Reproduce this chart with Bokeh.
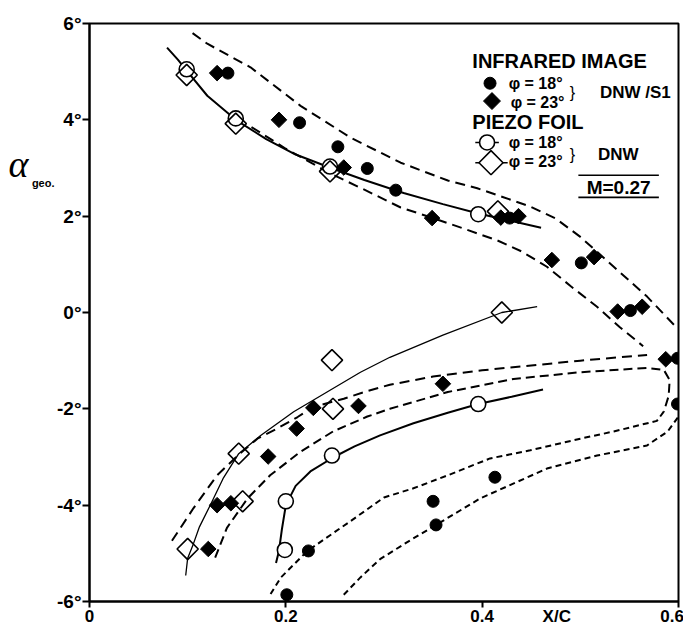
from bokeh.plotting import figure
from bokeh.models import Range1d, FixedTicker, LinearAxis
from bokeh.embed import file_html
from bokeh.resources import INLINE
from bokeh.core.properties import value

# ---------------- data ----------------
x_ticks = [0, 0.2, 0.4, 0.6]
x_tick_labels = ["0", "0.2", "0.4", "0.6"]
y_ticks = [-6, -4, -2, 0, 2, 4, 6]
y_tick_labels = ["-6°", "-4°", "-2°", "0°", "2°", "4°", "6°"]
x_title = "X/C"
y_title = "α"
y_title_sub = "geo."

# Infrared image, phi = 18 deg (filled circles)
ir18_x = [0.141, 0.214, 0.253, 0.283, 0.312, 0.428, 0.501, 0.551, 0.599, 0.599, 0.413, 0.350, 0.353, 0.223, 0.201]
ir18_y = [4.97, 3.94, 3.44, 2.99, 2.54, 1.96, 1.03, 0.04, -0.95, -1.90, -3.42, -3.92, -4.41, -4.95, -5.86]
# Infrared image, phi = 23 deg (filled diamonds)
ir23_x = [0.130, 0.193, 0.259, 0.349, 0.419, 0.437, 0.471, 0.514, 0.538, 0.563, 0.587, 0.360, 0.274, 0.228, 0.211, 0.182, 0.144, 0.130, 0.121]
ir23_y = [4.97, 4.00, 3.01, 1.96, 1.97, 2.00, 1.09, 1.15, 0.02, 0.12, -0.97, -1.48, -1.94, -1.98, -2.41, -2.99, -3.96, -4.00, -4.91]
# Piezo foil, phi = 18 deg (open circles)
pz18_x = [0.099, 0.149, 0.245, 0.396, 0.396, 0.247, 0.200, 0.199]
pz18_y = [5.05, 4.03, 3.03, 2.04, -1.90, -2.97, -3.92, -4.93]
# Piezo foil, phi = 23 deg (open diamonds)
pz23_x = [0.099, 0.149, 0.245, 0.416, 0.420, 0.247, 0.248, 0.152, 0.156, 0.100]
pz23_y = [4.93, 3.92, 2.93, 2.10, 0.00, -0.99, -2.00, -2.93, -3.92, -4.91]

# faired curves
upper_solid_x = [0.079, 0.09, 0.099, 0.12, 0.149, 0.18, 0.21, 0.246, 0.28, 0.32, 0.36, 0.397, 0.43, 0.46]
upper_solid_y = [5.5, 5.25, 5.02, 4.5, 4.0, 3.6, 3.28, 3.0, 2.75, 2.48, 2.25, 2.05, 1.9, 1.76]
upper_outer_x = [0.105, 0.12, 0.164, 0.215, 0.266, 0.317, 0.365, 0.395, 0.449, 0.475, 0.5, 0.534, 0.568, 0.597]
upper_outer_y = [5.8, 5.58, 5.09, 4.29, 3.63, 3.11, 2.74, 2.58, 2.2, 1.95, 1.57, 0.95, 0.33, -0.29]
upper_inner_x = [0.165, 0.2, 0.246, 0.28, 0.317, 0.35, 0.38, 0.415, 0.44, 0.466, 0.49, 0.517, 0.54, 0.564]
upper_inner_y = [3.85, 3.4, 2.88, 2.55, 2.18, 1.96, 1.75, 1.5, 1.27, 0.95, 0.55, 0.12, -0.3, -0.7]
lower_thin_x = [0.098, 0.1, 0.105, 0.112, 0.123, 0.136, 0.152, 0.174, 0.208, 0.242, 0.276, 0.306, 0.36, 0.42, 0.456]
lower_thin_y = [-5.46, -5.1, -4.85, -4.45, -4.0, -3.45, -2.93, -2.56, -2.06, -1.65, -1.24, -0.93, -0.47, 0.0, 0.12]
lower_solid_x = [0.19, 0.193, 0.196, 0.2, 0.21, 0.225, 0.249, 0.27, 0.296, 0.33, 0.365, 0.396, 0.43, 0.462]
lower_solid_y = [-5.2, -4.95, -4.5, -4.0, -3.6, -3.3, -3.0, -2.78, -2.55, -2.3, -2.08, -1.9, -1.75, -1.6]
lower_a_x = [0.084, 0.106, 0.13, 0.151, 0.171, 0.191, 0.212, 0.228, 0.259, 0.283, 0.306, 0.35, 0.4, 0.45, 0.5, 0.54, 0.568]
lower_a_y = [-4.74, -4.06, -3.38, -2.97, -2.62, -2.41, -2.17, -1.96, -1.79, -1.63, -1.5, -1.33, -1.2, -1.1, -1.0, -0.93, -0.88]
lower_b1_x = [0.128, 0.14, 0.161, 0.184, 0.215, 0.248, 0.283, 0.306, 0.365, 0.432, 0.5, 0.568, 0.585, 0.591, 0.59, 0.585]
lower_b1_y = [-5.09, -4.47, -3.86, -3.38, -2.89, -2.47, -2.16, -2.0, -1.65, -1.38, -1.24, -1.15, -1.19, -1.4, -1.73, -2.06]
lower_b2_x = [0.585, 0.578, 0.534, 0.5, 0.449, 0.408, 0.365, 0.33, 0.3, 0.266, 0.222, 0.195, 0.184]
lower_b2_y = [-2.06, -2.25, -2.47, -2.62, -2.86, -3.03, -3.38, -3.65, -3.84, -4.33, -4.95, -5.5, -5.86]
lower_c_x = [0.259, 0.276, 0.296, 0.325, 0.353, 0.398, 0.466, 0.517, 0.568, 0.589, 0.6]
lower_c_y = [-5.86, -5.5, -5.12, -4.75, -4.41, -3.86, -3.24, -2.97, -2.76, -2.47, -2.16]

FONT = "Liberation Sans"
K = "black"

p = figure(width=683, height=628, output_backend="svg", toolbar_location=None,
           x_range=Range1d(0, 0.6), y_range=Range1d(-6, 6),
           min_border_left=89, min_border_right=5, min_border_top=23, min_border_bottom=24)
p.title.visible = False
p.grid.visible = False
p.background_fill_color = "white"
p.border_fill_color = "white"
p.outline_line_color = K
p.outline_line_width = 2

# x axis: tick marks drawn as minor ticks; labels (and the "X/C" title) sit in the label row
x_title_pos = 0.476
x_label_pos = list(x_ticks)
x_label_pos[-1] = x_ticks[-1] - 0.0065   # keep the last label inside the canvas
p.xaxis.ticker = FixedTicker(ticks=x_label_pos + [x_title_pos], minor_ticks=x_ticks)
ov = {t: s for t, s in zip(x_label_pos, x_tick_labels)}
ov[x_title_pos] = x_title
xa = p.xaxis[0]
xa.major_label_overrides = ov
xa.axis_line_width = 2
xa.axis_line_color = K
xa.major_tick_line_color = None
xa.major_tick_out = 6
xa.major_tick_in = 0
xa.minor_tick_line_color = K
xa.minor_tick_line_width = 2
xa.minor_tick_out = 6
xa.minor_tick_in = 0
xa.major_label_text_font = FONT
xa.major_label_text_font_style = "bold"
xa.major_label_text_font_size = "17px"
xa.major_label_text_color = K
xa.major_label_standoff = -1

ya = p.yaxis[0]
ya.ticker = FixedTicker(ticks=y_ticks)
ya.major_label_overrides = {t: s for t, s in zip(y_ticks, y_tick_labels)}
ya.axis_line_width = 2
ya.axis_line_color = K
ya.major_tick_line_width = 2
ya.major_tick_line_color = K
ya.major_tick_out = 7
ya.major_tick_in = 0
ya.minor_tick_line_color = None
ya.major_label_text_font = FONT
ya.major_label_text_font_style = "bold"
ya.major_label_text_font_size = "19px"
ya.major_label_text_color = K
ya.major_label_standoff = 1

# y title: "α" with subscript "geo." placed with two label-only axes on the left
sub_pos = 2.68
title_pos = 3.08
ax_sub = LinearAxis(ticker=FixedTicker(ticks=[sub_pos]), major_label_overrides={sub_pos: y_title_sub},
                    axis_line_color=None, major_tick_line_color=None, minor_tick_line_color=None,
                    major_tick_out=0, major_tick_in=0, minor_tick_out=0, major_label_standoff=0,
                    major_label_text_font=FONT, major_label_text_font_style="bold",
                    major_label_text_font_size="11px", major_label_text_color=K)
ax_alpha = LinearAxis(ticker=FixedTicker(ticks=[title_pos]), major_label_overrides={title_pos: y_title},
                      axis_line_color=None, major_tick_line_color=None, minor_tick_line_color=None,
                      major_tick_out=0, major_tick_in=0, minor_tick_out=0, major_label_standoff=0,
                      major_label_text_font="Liberation Serif", major_label_text_font_style="italic",
                      major_label_text_font_size="38px", major_label_text_color=K)
p.add_layout(ax_sub, "left")
p.add_layout(ax_alpha, "left")

# curves
p.line(upper_solid_x, upper_solid_y, line_color=K, line_width=2)
p.line(upper_outer_x, upper_outer_y, line_color=K, line_width=2, line_dash="10 6")
p.line(upper_inner_x, upper_inner_y, line_color=K, line_width=2, line_dash="10 6")
p.line(lower_thin_x, lower_thin_y, line_color=K, line_width=1.3)
p.line(lower_solid_x, lower_solid_y, line_color=K, line_width=2)
p.line(lower_a_x, lower_a_y, line_color=K, line_width=2, line_dash="10 6")
p.line(lower_b1_x, lower_b1_y, line_color=K, line_width=2, line_dash="9 5")
p.line(lower_b2_x, lower_b2_y, line_color=K, line_width=2, line_dash="6 4")
p.line(lower_c_x, lower_c_y, line_color=K, line_width=2, line_dash="6 4")

# markers
p.scatter(ir18_x, ir18_y, marker="circle", size=12, fill_color=K, line_color=K)
p.scatter(ir23_x, ir23_y, marker="square", angle=0.7854, size=11, fill_color=K, line_color=K)
p.scatter(pz18_x, pz18_y, marker="circle", size=15, fill_color="white", line_color=K, line_width=1.6)
p.scatter(pz23_x, pz23_y, marker="square", angle=0.7854, size=15, fill_color=None, line_color=K, line_width=1.6)

# legend block (drawn inside the frame)
p.text(x=[0.39, 0.39], y=[5.22, 3.96], text=["INFRARED IMAGE", "PIEZO FOIL"],
       text_font=value(FONT), text_font_style="bold", text_font_size="20px",
       text_baseline="middle", text_align="left", text_color=K)
p.scatter([0.408], [4.76], marker="circle", size=12, fill_color=K, line_color=K)
p.scatter([0.41], [4.39], marker="square", angle=0.7854, size=12, fill_color=K, line_color=K)
p.line([0.393, 0.417], [3.53, 3.53], line_color=K, line_width=1.6)
p.scatter([0.405], [3.53], marker="circle", size=15, fill_color="white", line_color=K, line_width=1.6)
p.line([0.393, 0.426], [3.11, 3.11], line_color=K, line_width=1.6)
p.scatter([0.409], [3.11], marker="square", angle=0.7854, size=17, fill_color="white", line_color=K, line_width=1.6)
p.text(x=[0.427, 0.429, 0.427, 0.427], y=[4.76, 4.36, 3.53, 3.14],
       text=["φ = 18°", "φ = 23°", "φ = 18°", "φ = 23°"],
       text_font=value(FONT), text_font_style="bold", text_font_size="16px",
       text_baseline="middle", text_align="left", text_color=K)
p.text(x=[0.492, 0.492], y=[4.56, 3.28], text=["}", "}"],
       text_font=value(FONT), text_font_size="16px",
       text_baseline="middle", text_align="center", text_color=K)
p.text(x=[0.52, 0.518], y=[4.56, 3.28], text=["DNW /S1", "DNW"],
       text_font=value(FONT), text_font_style="bold", text_font_size="17px",
       text_baseline="middle", text_align="left", text_color=K)
p.line([0.498, 0.58], [2.85, 2.85], line_color=K, line_width=1.6)
p.text(x=[0.539], y=[2.6], text=["M=0.27"],
       text_font=value(FONT), text_font_style="bold", text_font_size="19px",
       text_baseline="middle", text_align="center", text_color=K)
p.line([0.498, 0.58], [2.39, 2.39], line_color=K, line_width=1.6)

open("out.html", "w").write(file_html(p, INLINE))
